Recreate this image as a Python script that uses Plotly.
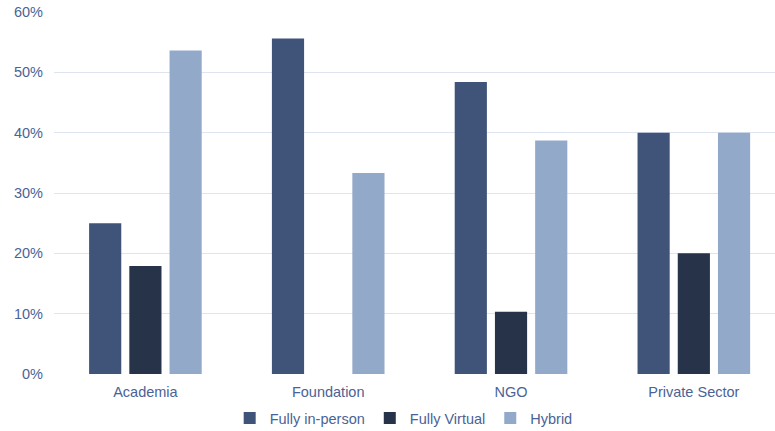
import plotly.graph_objects as go

categories = ["Academia", "Foundation", "NGO", "Private Sector"]
in_person = [25.0, 55.6, 48.4, 40.0]
virtual = [17.9, 0.0, 10.3, 20.0]
hybrid = [53.6, 33.3, 38.7, 40.0]
y_ticks = [0, 10, 20, 30, 40, 50, 60]
y_tick_labels = [f"{v}%" for v in y_ticks]

text_color = "#4a6396"
font = dict(family="Liberation Sans, Arial, sans-serif", size=14.5, color=text_color)

fig = go.Figure()
fig.add_trace(go.Bar(name="Fully in-person", x=categories, y=in_person, marker_color="#3f5478",
                     marker_line_width=0))
fig.add_trace(go.Bar(name="Fully Virtual", x=categories, y=virtual, marker_color="#263349",
                     marker_line_width=0))
fig.add_trace(go.Bar(name="Hybrid", x=categories, y=hybrid, marker_color="#93a9c9",
                     marker_line_width=0))

fig.update_layout(
    width=775, height=431,
    margin=dict(l=54, r=0, t=12, b=57),
    paper_bgcolor="white", plot_bgcolor="white",
    font=font,
    barmode="group", bargap=0.34, bargroupgap=0.2,
    showlegend=True,
    legend=dict(orientation="h", x=0.485, xanchor="center", yref="container", y=0.03,
                yanchor="middle", font=font, itemwidth=30, traceorder="normal"),
    xaxis=dict(range=[-0.5, 3.444], showgrid=False, zeroline=False, showline=False,
               ticks="", tickfont=font, ticklabelstandoff=7, automargin=False),
    yaxis=dict(range=[0, 60], tickvals=y_ticks, ticktext=y_tick_labels,
               showgrid=True, gridcolor="#dfe5f0", gridwidth=1.2, zeroline=False,
               showline=False, ticks="", tickfont=font, ticklabelstandoff=10, automargin=False),
)

fig.write_html("out.html", config={"displayModeBar": False},
               post_script="document.body.style.margin='0';document.body.style.overflow='hidden';")
